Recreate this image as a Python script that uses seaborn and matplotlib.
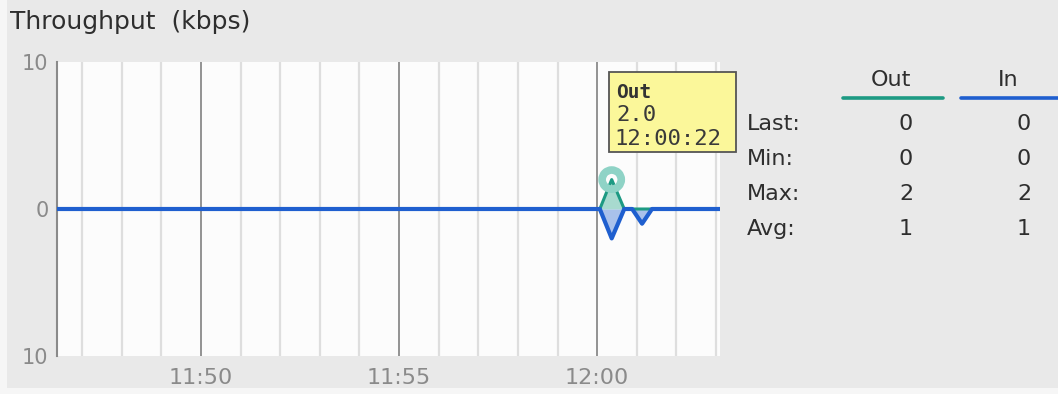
import matplotlib
matplotlib.use("Agg")
import matplotlib.pyplot as plt
import matplotlib.dates as mdates
from matplotlib.lines import Line2D
from matplotlib.patches import Rectangle
import pandas as pd
import seaborn as sns

# Throughput samples (kbps); "In" is drawn mirrored below the zero line
times = ["11:46:00", "12:00:04", "12:00:22", "12:00:41", "12:00:53",
         "12:01:08", "12:01:23", "12:03:10"]
out_kbps = [0, 0, 2, 0, 0, 0, 0, 0]
in_kbps = [0, 0, 2, 0, 0, 1, 0, 0]

x_ticks = ["11:50", "11:55", "12:00"]
y_ticks = [10, 0, -10]

stat_names = ["Last:", "Min:", "Max:", "Avg:"]
out_stats = [0, 0, 2, 1]
in_stats = [0, 0, 2, 1]

hover_series = "Out"
hover_time = "12:00:22"

day = "2024-01-01 "
df = pd.DataFrame({
    "time": pd.to_datetime([day + t for t in times]),
    "Out": out_kbps,
    "In": [-v for v in in_kbps],
})

TEAL = "#1d9a83"
BLUE = "#1f5fcf"
BG = "#e9e9e9"
TXT = "#2e2e2e"

sns.set_theme(style="white")
plt.rcParams["font.family"] = ["DejaVu Sans"]

W, H = 1058, 394
fig = plt.figure(figsize=(W / 100, H / 100), dpi=100)
fig.patch.set_facecolor("#f6f6f6")
fig.add_artist(Rectangle((7 / W, 1 - 388 / H), 1, 388 / H, transform=fig.transFigure,
                         facecolor=BG, edgecolor="none", zorder=-5))


def fx(px):
    return px / W


def fy(py):
    return 1 - py / H


ax = fig.add_axes([fx(57), fy(356), fx(720) - fx(57), fy(62) - fy(356)])
ax.set_facecolor("#fcfcfc")

# Filled areas between each series and zero
ax.fill_between(df["time"], 0, df["Out"], color="#8ccfc0", alpha=0.75, lw=0, zorder=2)
ax.fill_between(df["time"], 0, df["In"], color="#8eaee6", alpha=0.75, lw=0, zorder=2)

sns.lineplot(data=df, x="time", y="Out", ax=ax, color=TEAL, lw=2.2, zorder=3)
sns.lineplot(data=df, x="time", y="In", ax=ax, color=BLUE, lw=3.0, zorder=4)

# Hover marker on the Out peak
peak_t = pd.to_datetime(day + hover_time)
peak_v = df.loc[df["time"] == peak_t, "Out"].iloc[0]
ax.scatter([peak_t], [peak_v], s=190, facecolor="none", edgecolor="#8fd3c6",
           linewidth=5.5, zorder=5)

ax.set_xlim(pd.to_datetime(day + "11:46:22"), pd.to_datetime(day + "12:03:06"))
ax.set_ylim(-10, 10)

# Minute grid (light) and five-minute grid (darker)
ax.xaxis.set_minor_locator(mdates.MinuteLocator(interval=1))
ax.xaxis.set_major_locator(mdates.MinuteLocator(byminute=range(0, 60, 5)))
ax.xaxis.set_major_formatter(mdates.DateFormatter("%H:%M"))
ax.grid(True, which="minor", axis="x", color="#dedede", lw=1.6, zorder=0)
ax.grid(True, which="major", axis="x", color="#8a8a8a", lw=1.3, zorder=1)
ax.grid(False, axis="y")

ax.set_xticks(pd.to_datetime([day + t for t in x_ticks]))
ax.set_xticklabels(x_ticks, color="#8a8a8a", fontsize=16)
ax.set_yticks(y_ticks)
ax.set_yticklabels([str(abs(v)) for v in y_ticks], color="#8a8a8a", fontsize=15)
ax.tick_params(axis="both", length=0, pad=6)
ax.tick_params(axis="x", pad=9)

for s in ["top", "right", "bottom"]:
    ax.spines[s].set_visible(False)
ax.spines["left"].set_color("#8a8a8a")
ax.spines["left"].set_linewidth(1.5)

ax.set_xlabel("")
ax.set_ylabel("")

fig.text(fx(10), fy(22), "Throughput  (kbps)", fontsize=18, color=TXT,
         va="center", ha="left")

# Tooltip box
fig.add_artist(Rectangle((fx(609), fy(152)), fx(736) - fx(609), fy(72) - fy(152),
                         transform=fig.transFigure, facecolor="#fbf79a",
                         edgecolor="#555555", lw=1.3, zorder=10))
tip_font = ["DejaVu Sans Mono"]
fig.text(fx(616), fy(92), hover_series, fontsize=14, fontweight="bold",
         family=tip_font, color="#333333", va="center", zorder=11)
fig.text(fx(616), fy(115), f"{peak_v:.1f}", fontsize=16, family=tip_font,
         color="#3a3a3a", va="center", zorder=11)
fig.text(fx(614), fy(139), hover_time, fontsize=16, family=tip_font,
         color="#3a3a3a", va="center", zorder=11)

# Summary table
fig.text(fx(891), fy(80), "Out", fontsize=16, color=TXT, ha="center", va="center")
fig.text(fx(1008), fy(80), "In", fontsize=16, color=TXT, ha="center", va="center")
fig.add_artist(Line2D([fx(843), fx(943)], [fy(98), fy(98)], color=TEAL, lw=2.6,
                      transform=fig.transFigure))
fig.add_artist(Line2D([fx(961), fx(1058)], [fy(98), fy(98)], color=BLUE, lw=2.6,
                      transform=fig.transFigure))
row_y = [124, 159, 194, 229]
for name, o, i, y in zip(stat_names, out_stats, in_stats, row_y):
    fig.text(fx(747), fy(y), name, fontsize=16, color=TXT, ha="left", va="center")
    fig.text(fx(906), fy(y), str(o), fontsize=16, color=TXT, ha="center", va="center")
    fig.text(fx(1024), fy(y), str(i), fontsize=16, color=TXT, ha="center", va="center")

fig.savefig("out.png", dpi=100, facecolor=fig.get_facecolor())
